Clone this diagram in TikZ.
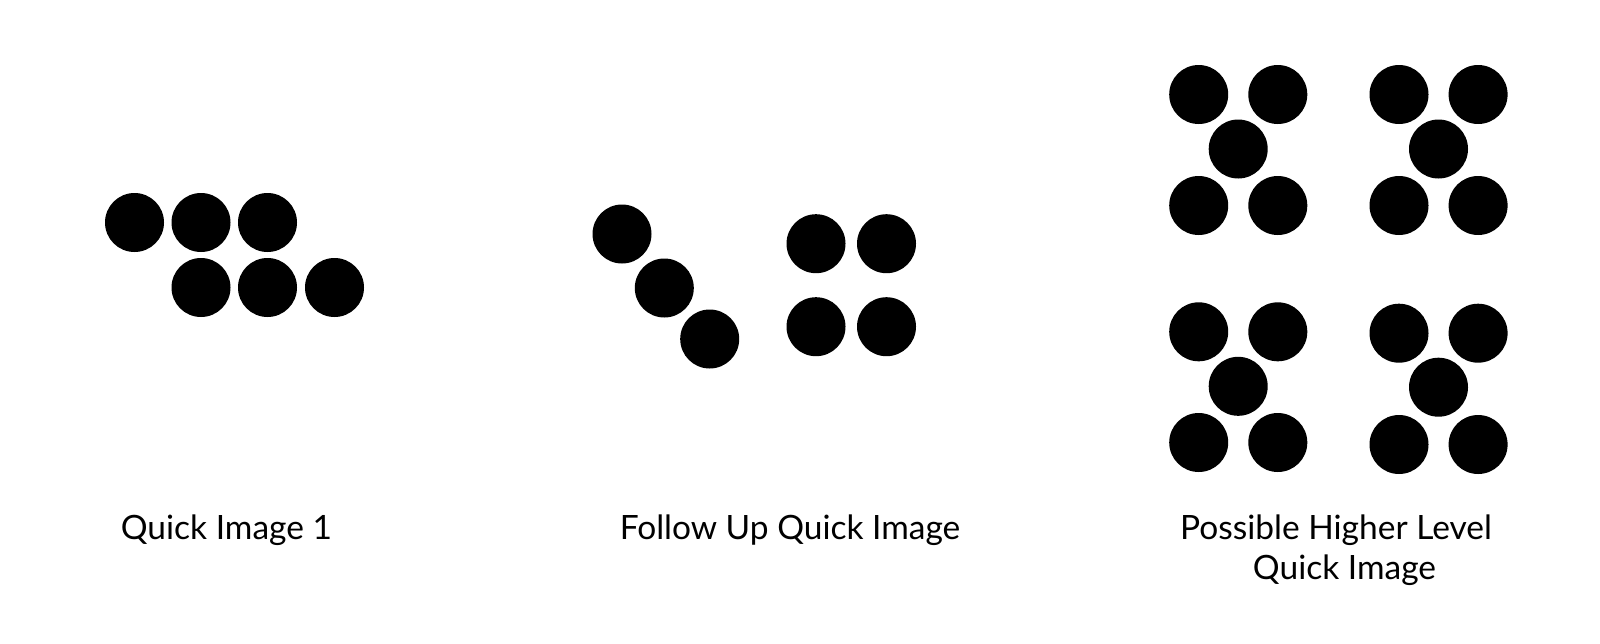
\documentclass[tikz,border=0pt]{standalone}
\usepackage{fontspec}
\setmainfont{Lato}
\begin{document}
\begin{tikzpicture}[x=1pt,y=-1pt,
  dot/.style={fill=black},
  lbl/.style={inner sep=0pt,anchor=base,font=\fontsize{33.5}{40}\selectfont}]
\useasboundingbox[fill=white] (0,0) rectangle (1600,643);
\def\r{29.5}
% Quick Image 1
\foreach \x/\y in {134.5/222.5, 201/222.5, 267.5/222.5, 201/287.5, 267.5/287.5, 334.5/287.5}
  \fill[dot] (\x,\y) circle (\r);
% Follow up
\foreach \x/\y in {622/234, 664.3/288, 709.7/339, 816/243.7, 886.5/243.7, 816/326.7, 886.5/326.7}
  \fill[dot] (\x,\y) circle (\r);
% Higher level groups
\foreach \dx/\dy in {0/0, 200.3/0}{
  \foreach \x/\y in {1198.7/94.5, 1277.8/94.5, 1238.2/149, 1198.7/205.5, 1277.8/205.5}
    \fill[dot] (\x+\dx,\y+\dy) circle (\r);
}
\foreach \x/\y in {1198.7/331.8, 1277.8/331.8, 1238.2/386.3, 1198.7/442.5, 1277.8/442.5}
  \fill[dot] (\x,\y) circle (\r);
\foreach \x/\y in {1399/333.2, 1478.1/333.2, 1438.5/387.2, 1399/444.5, 1478.1/444.5}
  \fill[dot] (\x,\y) circle (\r);
\node[lbl] (l1) at (226.4,539) {Quick Image 1};
\node[lbl] (l2) at (790,539) {Follow Up Quick Image};
\node[lbl] (l3a) at (1336,539) {Possible Higher Level};
\node[lbl] (l3b) at (1344.5,579) {Quick Image};
\end{tikzpicture}
\end{document}
